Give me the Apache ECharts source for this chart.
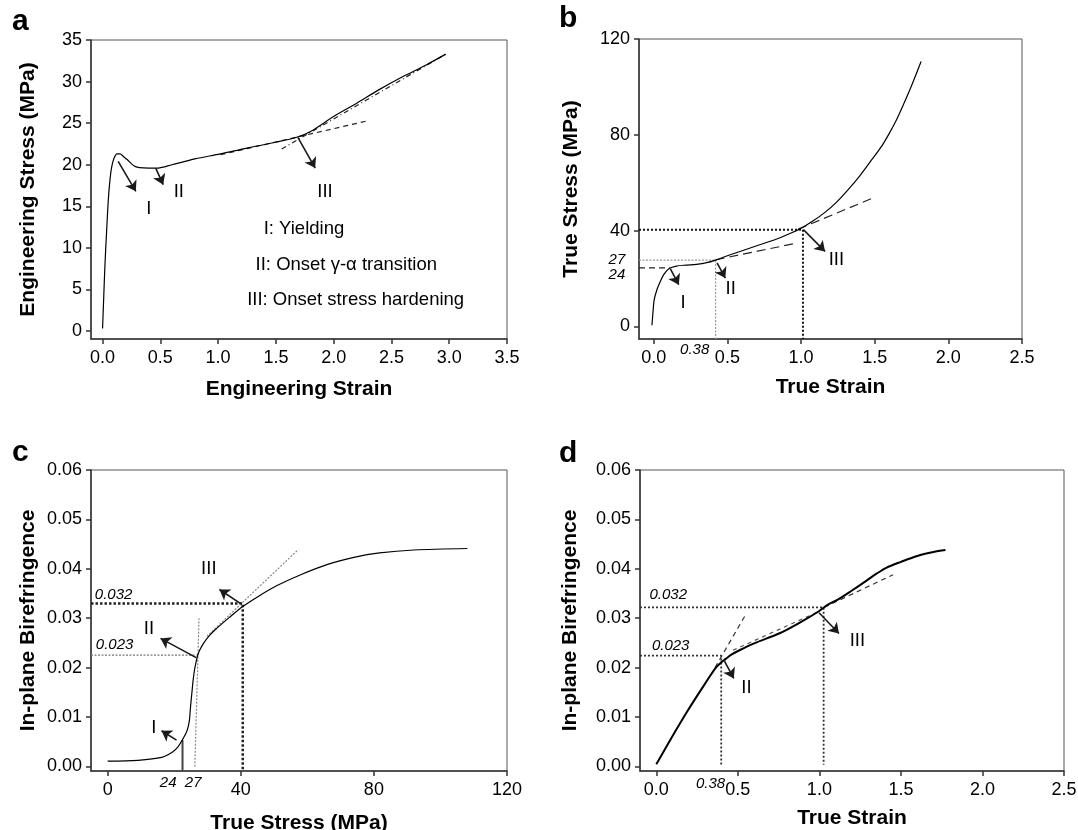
<!DOCTYPE html>
<html>
<head>
<meta charset="utf-8">
<title>Stress-strain and birefringence</title>
<script src="https://cdn.jsdelivr.net/npm/echarts@6/dist/echarts.min.js"></script>
<style>
  html, body { margin: 0; padding: 0; background: #fff; }
  #main { width: 1078px; height: 830px; }
</style>
</head>
<body>
<div id="main"></div>
<script>
// ---- panel a: engineering stress vs engineering strain ----
var aCurve = [[0,0.3],[0.01,4],[0.02,7.7],[0.035,12],[0.05,15.8],[0.065,18.3],[0.08,19.8],[0.1,20.8],[0.125,21.3],
  [0.15,21.3],[0.18,21.0],[0.215,20.6],[0.25,20.1],[0.28,19.8],[0.32,19.65],[0.4,19.6],[0.48,19.6],[0.6,20.0],
  [0.8,20.7],[1.02,21.3],[1.25,22.0],[1.5,22.7],[1.68,23.3],[1.8,24.0],[2.0,25.8],[2.2,27.4],[2.39,29.0],
  [2.6,30.6],[2.8,32.0],[2.97,33.3]];
var aTan1 = [[1.02,21.2],[2.3,25.3]];
var aTan2 = [[1.55,21.9],[2.97,33.3]];
var aArrows = [[0.135,20.4,0.288,16.8],[0.46,19.6,0.525,17.6],[1.69,23.3,1.84,19.6]];
var aMarks = [[0.40,14.7,'I'],[0.66,16.7,'II'],[1.925,16.7,'III']];
var aNotes = [[1.39,12.3,'I: Yielding'],[1.32,8.0,'II: Onset \u03b3-\u03b1 transition'],[1.247,3.8,'III: Onset stress hardening']];
var aXTicks = [0,0.5,1,1.5,2,2.5,3,3.5];
var aYTicks = [0,5,10,15,20,25,30,35];

// ---- panel b: true stress vs true strain ----
var bCurve = [[-0.012,0.5],[-0.005,6],[0.003,11.1],[0.02,15],[0.04,18.1],[0.07,21.8],[0.105,24.2],[0.154,25.2],
  [0.22,25.6],[0.29,25.9],[0.36,26.6],[0.42,27.7],[0.5,29.5],[0.62,32.0],[0.75,34.7],[0.853,36.9],[0.94,39.2],
  [1.004,41.1],[1.08,44],[1.156,47.3],[1.24,51.8],[1.32,57.1],[1.4,63],[1.48,69.6],[1.55,75.5],[1.6,80.7],
  [1.65,86.5],[1.69,91.9],[1.75,100.5],[1.815,110.6]];
var bDash24 = [[-0.1,24.4],[0.11,24.4]];
var bDot27 = [[-0.1,27.7],[0.42,27.7],[0.42,-5.26]];
var bDot40 = [[-0.1,40.4],[1.013,40.4],[1.013,-5.26]];
var bTan1 = [[0.42,27.8],[0.957,34.6]];
var bTan2 = [[0.98,40.6],[1.48,53.4]];
var bArrows = [[0.113,24.0,0.17,17.4],[0.43,26.5,0.486,20.2],[1.016,40.4,1.163,31.3]];
var bMarks = [[0.199,9.8,'I'],[0.522,15.6,'II'],[1.24,27.6,'III']];
var bNotes = [[-0.25,27.8,'27'],[-0.25,21.6,'24'],[0.278,-9.7,'0.38']];
var bXTicks = [0,0.5,1,1.5,2,2.5];
var bYTicks = [0,40,80,120];

// ---- panel c: birefringence vs true stress ----
var cCurve = [[0,0.00105],[9.1,0.00122],[16.2,0.0018],[19.5,0.0029],[21.2,0.0040],[22.4,0.0053],[23.6,0.0068],
  [24.2,0.008],[24.6,0.0095],[24.9,0.012],[25.3,0.0148],[25.7,0.0175],[26.1,0.0195],[26.6,0.0212],[27.1,0.0226],
  [27.8,0.0237],[28.8,0.0249],[30.5,0.0264],[32.4,0.0277],[36.5,0.0301],[40.7,0.0324],[45.5,0.0345],
  [50.6,0.0365],[58,0.0388],[66.1,0.0409],[74,0.0423],[81.7,0.0432],[92,0.0438],[108.1,0.0441]];
var cVert24 = [[22.5,-0.00095],[22.5,0.0053]];
var cTan27 = [[26.2,-0.0001],[27.45,0.030]];
var cDot023 = [[-5,0.0225],[26.7,0.0225]];
var cDot032 = [[-5,0.03295],[40.6,0.03295],[40.6,-0.00095]];
var cTan3 = [[29.8,0.0263],[57.3,0.0439]];
var cArrows = [[20.7,0.0053,16.2,0.0072],[26.6,0.022,15.9,0.0259],[40.3,0.0328,33.6,0.0358]];
var cMarks = [[13.9,0.0078,'I'],[12.4,0.0279,'II'],[30.4,0.040,'III']];
var cNotes = [[1.8,0.0348,'0.032'],[2.1,0.0246,'0.023'],[18.2,-0.0034,'24'],[25.7,-0.0034,'27']];
var cXTicks = [0,40,80,120];
var cYTicks = [0,0.01,0.02,0.03,0.04,0.05,0.06];

// ---- panel d: birefringence vs true strain ----
var dCurve = [[0,0.0004],[0.09,0.0056],[0.195,0.0114],[0.30,0.0168],[0.363,0.0199],[0.40,0.0211],[0.424,0.0217],
  [0.46,0.0226],[0.51,0.0235],[0.6,0.0249],[0.76,0.027],[0.88,0.0291],[0.992,0.0313],[1.05,0.0327],
  [1.116,0.0338],[1.2,0.0356],[1.285,0.0375],[1.35,0.039],[1.41,0.0402],[1.5,0.0414],[1.6,0.0426],
  [1.7,0.0434],[1.773,0.0438]];
var dTan1 = [[0.36,0.0200],[0.553,0.031]];
var dTan2 = [[0.47,0.0235],[0.98,0.0311]];
var dTan3 = [[1.03,0.0322],[1.452,0.0388]];
var dDot023 = [[-0.1,0.0224],[0.398,0.0224],[0.398,0.0003]];
var dDot032 = [[-0.1,0.0322],[1.026,0.0322],[1.026,0.0003]];
var dArrows = [[0.418,0.0213,0.475,0.0178],[0.998,0.0311,1.12,0.0269]];
var dMarks = [[0.553,0.0158,'II'],[1.233,0.0254,'III']];
var dNotes = [[0.073,0.0347,'0.032'],[0.088,0.0243,'0.023'],[0.333,-0.0035,'0.38']];
var dXTicks = [0,0.5,1,1.5,2,2.5];
var dYTicks = [0,0.01,0.02,0.03,0.04,0.05,0.06];

var FONT = 'Liberation Sans, Arial, Helvetica, sans-serif';
var INK = '#000';

function xAxis(gi, min, max, ticks, dec, name, gap) {
  return {
    gridIndex: gi, type: 'value', min: min, max: max,
    axisLine: { show: true, onZero: false, lineStyle: { color: '#333', width: 1.5 } },
    axisTick: { show: true, length: 5, customValues: ticks, lineStyle: { color: '#333', width: 1.5 } },
    axisLabel: { customValues: ticks, margin: 10, fontSize: 18, color: INK, fontFamily: FONT,
      formatter: function (v) { return v.toFixed(dec); } },
    splitLine: { show: false },
    name: name, nameLocation: 'middle', nameGap: gap,
    nameTextStyle: { fontSize: 21, fontWeight: 'bold', color: INK, fontFamily: FONT }
  };
}
function yAxis(gi, min, max, ticks, dec, name, gap) {
  var ax = xAxis(gi, min, max, ticks, dec, name, gap);
  ax.axisLabel.margin = 9;
  return ax;
}
function line(gi, data, color, width, type, smooth) {
  return { type: 'line', xAxisIndex: gi, yAxisIndex: gi, data: data, symbol: 'none', silent: true,
    smooth: smooth || false, lineStyle: { color: color, width: width, type: type } };
}
function arrows(gi, list) {
  return { type: 'line', xAxisIndex: gi, yAxisIndex: gi, data: [], silent: true,
    markLine: { silent: true, symbol: ['none', 'arrow'], symbolSize: 10, label: { show: false },
      lineStyle: { color: '#1a1a1a', width: 1.6, type: 'solid' },
      emphasis: { disabled: true },
      data: list.map(function (a) { return [{ coord: [a[0], a[1]] }, { coord: [a[2], a[3]] }]; }) } };
}
function texts(gi, list, pos, size, style) {
  return { type: 'scatter', xAxisIndex: gi, yAxisIndex: gi, symbolSize: 1, clip: false, silent: true,
    itemStyle: { color: '#fff', opacity: 0 },
    label: { show: true, position: pos, distance: 0, formatter: '{b}', fontSize: size, fontStyle: style,
      color: INK, opacity: 1, textBorderWidth: 0, fontFamily: FONT },
    data: list.map(function (t) { return { value: [t[0], t[1]], name: t[2] }; }) };
}

var chart = echarts.init(document.getElementById('main'), null, { renderer: 'canvas' });
var gridBox = { show: true, borderColor: '#555', borderWidth: 1, backgroundColor: 'transparent',
  containLabel: false, outerBoundsMode: 'none' };
chart.setOption({
  animation: false,
  backgroundColor: '#fff',
  title: [
    { text: 'a', left: 12, top: 7 },
    { text: 'b', left: 559, top: 4 },
    { text: 'c', left: 12, top: 438 },
    { text: 'd', left: 559, top: 439 }
  ].map(function (t) {
    t.padding = 0;
    t.textStyle = { fontSize: 30, fontWeight: 'bold', color: '#000', fontFamily: FONT };
    return t;
  }),
  grid: [
    Object.assign({ left: 91, top: 40, width: 416, height: 299 }, gridBox),
    Object.assign({ left: 639, top: 39, width: 383, height: 300 }, gridBox),
    Object.assign({ left: 91, top: 470, width: 416, height: 301 }, gridBox),
    Object.assign({ left: 640, top: 470, width: 424, height: 301 }, gridBox)
  ],
  xAxis: [
    xAxis(0, -0.1, 3.5, aXTicks, 1, 'Engineering Strain', 40),
    xAxis(1, -0.1, 2.5, bXTicks, 1, 'True Strain', 38),
    xAxis(2, -5, 120, cXTicks, 0, 'True Stress (MPa)', 42),
    xAxis(3, -0.1, 2.5, dXTicks, 1, 'True Strain', 37)
  ],
  yAxis: [
    yAxis(0, -0.96, 35, aYTicks, 0, 'Engineering Stress (MPa)', 52),
    yAxis(1, -5.26, 120, bYTicks, 0, 'True Stress (MPa)', 57),
    yAxis(2, -0.00095, 0.06, cYTicks, 2, 'In-plane Birefringence', 52),
    yAxis(3, -0.00095, 0.06, dYTicks, 2, 'In-plane Birefringence', 59)
  ],
  series: [
    // a
    line(0, aTan1, '#222', 1.2, [5, 4]),
    line(0, aTan2, '#222', 1.2, [5, 3, 1, 3]),
    line(0, aCurve, '#000', 1.2, 'solid', 0.3),
    arrows(0, aArrows),
    texts(0, aMarks, 'inside', 18.5, 'normal'),
    texts(0, aNotes, 'right', 18.5, 'normal'),
    // b
    line(1, bDash24, '#222', 1.2, [6, 4]),
    line(1, bDot27, '#999', 1.2, [2, 1.5]),
    line(1, bDot40, '#111', 2, [2, 2]),
    line(1, bTan1, '#222', 1.2, [9, 5]),
    line(1, bTan2, '#222', 1.2, [9, 5]),
    line(1, bCurve, '#000', 1.2, 'solid', 0.3),
    arrows(1, bArrows),
    texts(1, bMarks, 'inside', 18.5, 'normal'),
    texts(1, bNotes, 'inside', 15, 'italic'),
    // c
    line(2, cVert24, '#444', 2, 'solid'),
    line(2, cTan27, '#888', 1.2, [2, 1.5]),
    line(2, cDot023, '#777', 1.2, [2, 1.5]),
    line(2, cDot032, '#222', 2.5, [2.5, 2]),
    line(2, cTan3, '#888', 1.2, [2, 1.5]),
    line(2, cCurve, '#000', 1.2, 'solid', 0.3),
    arrows(2, cArrows),
    texts(2, cMarks, 'inside', 18.5, 'normal'),
    texts(2, cNotes, 'inside', 15, 'italic'),
    // d
    line(3, dTan1, '#333', 1.2, [5, 4]),
    line(3, dTan2, '#555', 1.2, [4, 4]),
    line(3, dTan3, '#333', 1.2, [5, 4]),
    line(3, dDot023, '#333', 1.8, [2, 2]),
    line(3, dDot032, '#333', 1.8, [2, 2]),
    line(3, dCurve, '#000', 2, 'solid', 0.3),
    arrows(3, dArrows),
    texts(3, dMarks, 'inside', 18.5, 'normal'),
    texts(3, dNotes, 'inside', 15, 'italic')
  ]
});
</script>
</body>
</html>
